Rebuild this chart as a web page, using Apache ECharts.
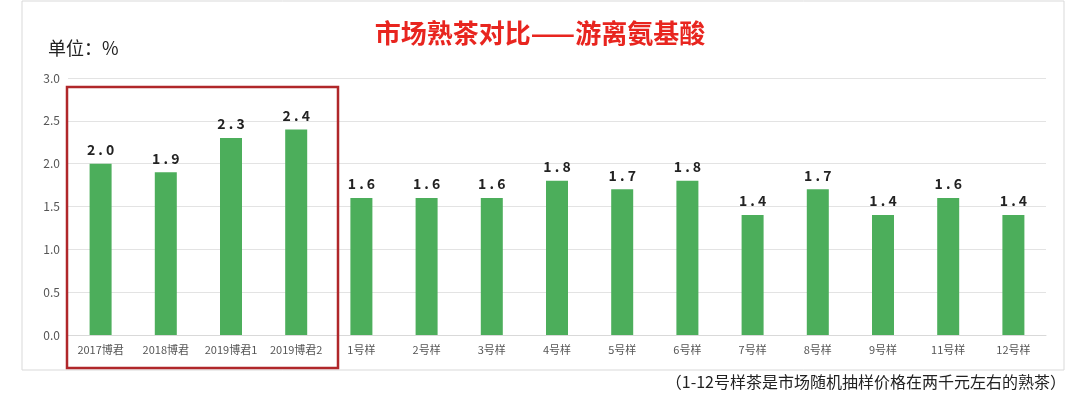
<!DOCTYPE html>
<html><head><meta charset="utf-8">
<script src="https://cdn.jsdelivr.net/npm/echarts@6/dist/echarts.min.js"></script>
<style>html,body{margin:0;background:#fff}#c{width:1080px;height:402px}</style>
</head><body><div id="c"></div>
<script>
const categories = ['2017博君','2018博君','2019博君1','2019博君2','1号样','2号样','3号样','4号样','5号样','6号样','7号样','8号样','9号样','11号样','12号样'];
const values = [2.0,1.9,2.3,2.4,1.6,1.6,1.6,1.8,1.7,1.8,1.4,1.7,1.4,1.6,1.4];
const yTicks = [0,0.5,1.0,1.5,2.0,2.5,3.0];

const chart = echarts.init(document.getElementById('c'));
const font = '"Noto Sans CJK SC", "Noto Sans", sans-serif';
chart.setOption({
  textStyle: { fontFamily: font },
  grid: { left: 68, right: 34, top: 78, bottom: 67 },
  graphic: [
    { type: 'rect', shape: { x: 22, y: 1, width: 1042, height: 369 }, style: { fill: 'none', stroke: '#d9d9d9', lineWidth: 1 } },
    { type: 'rect', shape: { x: 67, y: 87, width: 271, height: 281 }, style: { fill: 'none', stroke: '#b0272a', lineWidth: 2.5 }, z: 10 },
    { type: 'text', left: 'center', top: 20, style: { text: '市场熟茶对比——游离氨基酸', fill: '#e8251f', font: 'bold 26px ' + font } },
    { type: 'text', left: 48, top: 39, style: { text: '单位：%', fill: '#222', font: '18px ' + font } },
    { type: 'text', right: 14, top: 374, style: { text: '（1-12号样茶是市场随机抽样价格在两千元左右的熟茶）', fill: '#222', font: '16px ' + font } }
  ],
  xAxis: {
    type: 'category', data: categories,
    axisLine: { lineStyle: { color: '#d9d9d9' } }, axisTick: { show: false },
    axisLabel: { color: '#555', fontSize: 11, margin: 9, interval: 0 }
  },
  yAxis: {
    type: 'value', min: 0, max: 3, interval: 0.5,
    axisLabel: { color: '#555', fontSize: 12, formatter: v => v.toFixed(1) },
    splitLine: { lineStyle: { color: '#e3e3e3' } },
    axisLine: { show: false }, axisTick: { show: false }
  },
  series: [{
    type: 'bar', data: values, barWidth: 22,
    itemStyle: { color: '#4cae5b' },
    label: { show: true, position: 'top', distance: 7, color: '#222', fontSize: 14, fontWeight: 'bold',
      formatter: p => p.value.toFixed(1).split('').join(' ') }
  }]
});
</script></body></html>
